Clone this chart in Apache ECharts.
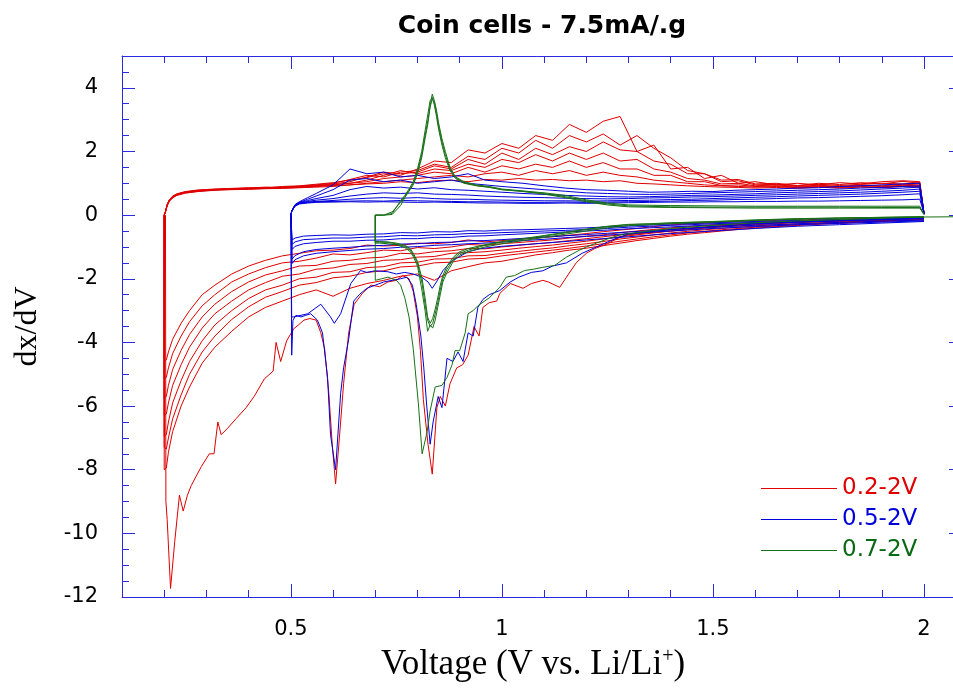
<!DOCTYPE html>
<html><head><meta charset="utf-8">
<script src="https://cdn.jsdelivr.net/npm/echarts@6/dist/echarts.min.js"></script>
<style>html,body{margin:0;padding:0;background:#fff}#c{width:953px;height:688px}</style>
</head><body><div id="c"></div>
<script>
// ---------- DATA (dx/dV vs voltage) ----------
const seriesNames = ['0.2-2V', '0.5-2V', '0.7-2V'];

// 0.2-2V : charge branch voltages and cycles
const redChgV = [0.2,0.203,0.207,0.212,0.22,0.23,0.25,0.28,0.32,0.36, 0.4,0.44,0.48,0.52,0.56,0.6,0.64,0.68,0.72,0.76, 0.8,0.84,0.88,0.92,0.96,1.0,1.04,1.08,1.12,1.16, 1.2,1.24,1.28,1.32,1.36,1.4,1.44,1.48,1.52,1.56, 1.6,1.65,1.7,1.75,1.8,1.85,1.9,1.95,1.99,2.0];
const redChgA = [0,0.12,0.34,0.48,0.6,0.67,0.74,0.79,0.82,0.84, 0.86,0.85,0.9,0.92,0.97,1.02,1.1,1.18,1.3,1.25, 1.45,1.7,1.65,2.05,1.95,2.25,2.1,2.5,2.35,2.85, 2.6,2.95,3.1,2.0,2.2,1.45,1.5,1.15,1.25,1.0, 1.05,0.95,1.0,0.95,1.02,0.98,1.05,1.08,1.05,0.05];
const redChgB = [0,0.11,0.32,0.47,0.58,0.66,0.73,0.78,0.81,0.83, 0.85,0.88,0.87,0.91,0.95,1.0,1.12,1.25,1.2,1.35, 1.4,1.6,1.5,1.85,1.75,2.1,1.95,2.35,2.1,2.5, 2.3,2.55,2.2,2.5,2.1,1.8,1.4,1.3,1.1,1.12, 0.98,1.0,0.93,1.0,0.96,1.02,0.98,1.06,1.0,0.05];
const redChgC = [0,0.12,0.33,0.46,0.57,0.65,0.72,0.77,0.8,0.83, 0.84,0.86,0.88,0.9,0.93,0.98,1.05,1.2,1.35,1.3, 1.35,1.55,1.45,1.75,1.6,1.95,1.75,2.1,1.9,2.15, 2.0,2.3,2.05,2.0,1.7,1.6,1.3,1.3,1.05,1.08, 0.95,0.97,0.92,0.97,0.93,0.97,1.0,0.98,1.02,0.05];
const redChgD = [0,0.1,0.31,0.45,0.56,0.64,0.71,0.76,0.8,0.82, 0.83,0.85,0.86,0.89,0.92,0.96,1.0,1.1,1.25,1.4, 1.3,1.45,1.4,1.6,1.5,1.75,1.65,1.9,1.7,1.95, 1.75,1.95,1.7,1.75,1.45,1.35,1.15,1.1,0.98,1.0, 0.92,0.95,0.9,0.94,0.9,0.95,0.92,0.97,0.95,0.05];
const redChgE = [0,0.11,0.32,0.46,0.57,0.65,0.72,0.77,0.8,0.82, 0.84,0.85,0.87,0.88,0.91,0.95,1.0,1.05,1.15,1.2, 1.25,1.35,1.3,1.5,1.35,1.55,1.45,1.6,1.5,1.7, 1.5,1.65,1.45,1.45,1.25,1.25,1.05,1.05,0.93,0.95, 0.9,0.92,0.88,0.92,0.88,0.93,0.9,0.94,0.92,0.05];
const redChgF = [0,0.1,0.3,0.44,0.55,0.63,0.7,0.75,0.79,0.81, 0.82,0.84,0.85,0.87,0.9,0.93,0.95,1.0,1.05,1.1, 1.15,1.2,1.25,1.2,1.3,1.35,1.25,1.4,1.3,1.4, 1.25,1.35,1.25,1.2,1.1,1.05,1.0,0.95,0.92,0.9, 0.88,0.9,0.86,0.9,0.87,0.9,0.88,0.92,0.9,0.05];
const redChgG = [0,0.1,0.29,0.43,0.54,0.62,0.69,0.74,0.78,0.8, 0.81,0.83,0.84,0.86,0.88,0.9,0.95,0.98,1.0,1.05, 1.02,1.08,1.1,1.05,1.12,1.1,1.15,1.1,1.12,1.08, 1.1,1.05,1.08,1.0,0.98,0.95,0.92,0.9,0.88,0.87, 0.85,0.87,0.84,0.88,0.85,0.88,0.86,0.9,0.88,0.05];

// 0.2-2V : discharge branch voltages and cycles
const redDisV = [2.0,1.96,1.92,1.88,1.84,1.8,1.76,1.72,1.68,1.64, 1.6,1.56,1.52,1.48,1.44,1.4,1.36,1.32,1.28,1.24, 1.2,1.16,1.12,1.08,1.04,1.0,0.96,0.92,0.88,0.84, 0.8,0.76,0.72,0.68,0.64,0.6,0.56,0.52,0.48,0.44, 0.4,0.36,0.32,0.29,0.26,0.24,0.22,0.21,0.205,0.2];
const redDis0 = [-0.08,-0.1,-0.09,-0.12,-0.11,-0.13,-0.12,-0.15,-0.14,-0.17, -0.18,-0.2,-0.22,-0.25,-0.28,-0.31,-0.36,-0.42,-0.47,-0.52, -0.58,-0.63,-0.68,-0.72,-0.76,-0.8,-0.84,-0.78,-0.86,-0.9, -0.88,-0.95,-0.97,-0.94,-1.05,-1.1,-1.12,-1.2,-1.28,-1.42, -1.6,-1.85,-2.2,-2.5,-3.0,-3.4,-3.9,-4.3,-4.55,-4.6];
const redDis1 = [-0.09,-0.11,-0.12,-0.11,-0.14,-0.13,-0.16,-0.17,-0.19,-0.21, -0.23,-0.26,-0.29,-0.32,-0.36,-0.4,-0.45,-0.5,-0.55,-0.62, -0.66,-0.72,-0.78,-0.82,-0.86,-0.9,-0.95,-0.92,-1.0,-1.05, -1.02,-1.12,-1.1,-1.18,-1.25,-1.22,-1.35,-1.45,-1.5,-1.65, -1.85,-2.1,-2.5,-2.85,-3.35,-3.8,-4.35,-4.8,-5.1,-5.15];
const redDis2 = [-0.1,-0.12,-0.13,-0.15,-0.14,-0.17,-0.19,-0.2,-0.23,-0.25, -0.27,-0.3,-0.33,-0.37,-0.41,-0.45,-0.5,-0.56,-0.62,-0.68, -0.74,-0.8,-0.86,-0.9,-0.95,-1.0,-1.06,-1.05,-1.12,-1.15, -1.22,-1.2,-1.32,-1.35,-1.42,-1.45,-1.58,-1.6,-1.75,-1.88, -2.1,-2.4,-2.8,-3.2,-3.75,-4.25,-4.85,-5.35,-5.7,-5.75];
const redDis3 = [-0.11,-0.13,-0.15,-0.16,-0.18,-0.19,-0.21,-0.23,-0.25,-0.28, -0.3,-0.34,-0.37,-0.41,-0.46,-0.5,-0.56,-0.62,-0.68,-0.75, -0.82,-0.88,-0.94,-0.99,-1.04,-1.1,-1.15,-1.18,-1.2,-1.3, -1.32,-1.4,-1.42,-1.52,-1.55,-1.66,-1.7,-1.85,-1.92,-2.12, -2.35,-2.7,-3.1,-3.55,-4.15,-4.7,-5.35,-5.9,-6.25,-6.3];
const redDis4 = [-0.12,-0.14,-0.16,-0.18,-0.2,-0.21,-0.24,-0.26,-0.29,-0.31, -0.34,-0.38,-0.42,-0.46,-0.51,-0.56,-0.62,-0.69,-0.75,-0.83, -0.9,-0.96,-1.03,-1.08,-1.14,-1.2,-1.27,-1.28,-1.37,-1.38, -1.48,-1.5,-1.62,-1.65,-1.78,-1.8,-1.95,-2.0,-2.2,-2.35, -2.62,-3.0,-3.45,-3.95,-4.6,-5.2,-5.9,-6.5,-6.9,-6.95];
const redDis5 = [-0.13,-0.15,-0.17,-0.2,-0.21,-0.24,-0.26,-0.29,-0.32,-0.35, -0.38,-0.42,-0.46,-0.51,-0.56,-0.62,-0.68,-0.75,-0.82,-0.9, -0.97,-1.04,-1.1,-1.16,-1.22,-1.28,-1.36,-1.38,-1.48,-1.5, -1.6,-1.63,-1.75,-1.8,-1.92,-1.97,-2.12,-2.2,-2.4,-2.58, -2.88,-3.28,-3.8,-4.3,-5.0,-5.65,-6.4,-7.0,-7.35,-7.3];
const redDis6 = [-0.14,-0.16,-0.19,-0.21,-0.23,-0.26,-0.28,-0.31,-0.34,-0.37, -0.41,-0.45,-0.5,-0.55,-0.6,-0.66,-0.73,-0.8,-0.88,-0.96, -1.04,-1.1,-1.18,-1.25,-1.35,-1.45,-1.5,-1.62,-1.75,-2.05, -1.85,-1.92,-2.05,-2.15,-2.3,-2.55,-2.35,-2.5,-2.7,-2.9, -3.2,-3.65,-4.15,-4.65,-5.4,-6.0,-6.8,-7.45,-7.95,-8.0];
// first discharge of the 0.2-2V cell: [V, dx/dV]
const redFirst = [[2.0,-0.08],[1.9,-0.12],[1.8,-0.15],[1.7,-0.2],[1.6,-0.27],[1.5,-0.36],[1.45,-0.42],[1.4,-0.5],[1.35,-0.55],[1.3,-0.62],[1.28,-0.69],[1.25,-0.9],[1.22,-1.05],[1.2,-1.2],[1.176,-1.5],[1.153,-1.95],[1.137,-2.27],[1.11,-2.1],[1.097,-2.05],[1.07,-2.15],[1.05,-2.3],[1.02,-2.15],[0.995,-2.46],[0.988,-2.7],[0.97,-2.75],[0.955,-2.9],[0.946,-3.8],[0.934,-3.5],[0.92,-4.4],[0.907,-4.7],[0.893,-4.8],[0.877,-5.3],[0.866,-6.0],[0.854,-5.7],[0.846,-6.05],[0.835,-8.14],[0.825,-7.2],[0.814,-5.8],[0.807,-4.26],[0.8,-3.2],[0.79,-2.4],[0.78,-2.0],[0.765,-1.9],[0.75,-2.05],[0.73,-2.1],[0.71,-2.25],[0.69,-2.2],[0.67,-2.45],[0.65,-2.8],[0.637,-3.7],[0.625,-5.3],[0.615,-7.0],[0.606,-8.45],[0.598,-7.2],[0.59,-5.6],[0.58,-4.2],[0.571,-3.7],[0.56,-3.3],[0.545,-3.25],[0.531,-3.3],[0.518,-3.45],[0.507,-3.57],[0.49,-3.95],[0.476,-4.6],[0.465,-4.0],[0.458,-4.9],[0.437,-5.15],[0.413,-5.7],[0.394,-6.05],[0.37,-6.4],[0.35,-6.7],[0.335,-6.9],[0.327,-6.5],[0.318,-7.5],[0.307,-7.5],[0.288,-7.9],[0.264,-8.5],[0.255,-8.8],[0.245,-9.3],[0.236,-8.8],[0.225,-10.25],[0.215,-11.73],[0.207,-9.56],[0.204,-9.0],[0.203,0]];

// 0.5-2V : charge
const blueChgV = [0.5,0.502,0.506,0.51,0.52,0.54,0.56,0.6,0.64,0.68, 0.72,0.76,0.8,0.84,0.88,0.92,0.96,1.0,1.05,1.1, 1.15,1.2,1.25,1.3,1.35,1.4,1.45,1.5,1.55,1.6, 1.65,1.7,1.75,1.8,1.85,1.9,1.95,1.99,2.0];
const blueChg1 = [0,0.12,0.24,0.33,0.42,0.55,0.68,0.95,1.45,1.3, 1.35,1.2,1.25,1.15,1.2,1.3,1.1,1.05,1.0,0.92, 0.85,0.8,0.78,0.75,0.72,0.73,0.75,0.74,0.78,0.8, 0.82,0.85,0.86,0.9,0.92,0.95,0.98,1.0,0.05];
const blueChg2 = [0,0.12,0.23,0.32,0.4,0.5,0.6,0.8,1.1,1.15, 1.05,1.1,1.0,1.05,1.1,1.0,0.95,0.9,0.85,0.8, 0.75,0.7,0.68,0.66,0.65,0.66,0.68,0.7,0.72,0.74, 0.76,0.78,0.8,0.82,0.85,0.87,0.9,0.92,0.05];
const blueChg3 = [0,0.12,0.22,0.31,0.39,0.46,0.52,0.62,0.8,0.9, 0.85,0.88,0.82,0.86,0.8,0.78,0.75,0.72,0.68,0.65, 0.62,0.6,0.58,0.57,0.58,0.6,0.62,0.63,0.65,0.67, 0.7,0.72,0.74,0.76,0.79,0.82,0.85,0.88,0.05];
const blueChg4 = [0,0.12,0.22,0.3,0.38,0.43,0.47,0.52,0.6,0.66, 0.7,0.68,0.7,0.66,0.65,0.63,0.6,0.58,0.56,0.55, 0.53,0.52,0.51,0.52,0.54,0.55,0.57,0.58,0.6,0.62, 0.64,0.66,0.68,0.7,0.72,0.75,0.78,0.82,0.05];
const blueChg5 = [0,0.11,0.21,0.3,0.37,0.41,0.43,0.46,0.5,0.53, 0.55,0.53,0.55,0.52,0.5,0.5,0.48,0.47,0.46,0.45, 0.45,0.44,0.45,0.46,0.47,0.49,0.5,0.52,0.54,0.56, 0.58,0.6,0.62,0.64,0.66,0.69,0.72,0.75,0.05];
const blueChg6 = [0,0.11,0.21,0.29,0.36,0.4,0.42,0.43,0.44,0.45, 0.44,0.46,0.45,0.44,0.43,0.42,0.42,0.41,0.4,0.4, 0.41,0.4,0.41,0.42,0.43,0.44,0.46,0.47,0.49,0.5, 0.52,0.54,0.55,0.57,0.59,0.61,0.64,0.67,0.05];
const blueChg7 = [0,0.11,0.2,0.28,0.35,0.38,0.4,0.41,0.42,0.41, 0.42,0.41,0.4,0.41,0.4,0.39,0.38,0.38,0.37,0.37, 0.38,0.37,0.38,0.39,0.4,0.41,0.41,0.42,0.42,0.43, 0.43,0.44,0.44,0.45,0.46,0.47,0.48,0.5,0.05];

// 0.5-2V : discharge
const blueDisV = [2.0,1.95,1.9,1.85,1.8,1.75,1.7,1.65,1.6,1.55, 1.5,1.45,1.4,1.35,1.3,1.25,1.2,1.15,1.1,1.05, 1.0,0.96,0.92,0.88,0.84,0.8,0.76,0.72,0.68,0.64, 0.6,0.56,0.53,0.51,0.503,0.5];
const blueDis0 = [-0.08,-0.1,-0.11,-0.12,-0.14,-0.15,-0.17,-0.18,-0.2,-0.22, -0.24,-0.26,-0.28,-0.31,-0.34,-0.37,-0.4,-0.42,-0.44,-0.46, -0.47,-0.5,-0.49,-0.53,-0.52,-0.56,-0.55,-0.59,-0.6,-0.63, -0.62,-0.64,-0.66,-0.72,-0.78,-0.8];
const blueDis1 = [-0.1,-0.11,-0.13,-0.14,-0.16,-0.17,-0.19,-0.21,-0.23,-0.25, -0.27,-0.3,-0.32,-0.35,-0.38,-0.42,-0.45,-0.48,-0.5,-0.53, -0.55,-0.57,-0.58,-0.61,-0.62,-0.65,-0.64,-0.68,-0.69,-0.72, -0.72,-0.75,-0.77,-0.84,-0.92,-0.95];
const blueDis2 = [-0.12,-0.13,-0.15,-0.16,-0.18,-0.2,-0.22,-0.24,-0.26,-0.28, -0.31,-0.34,-0.37,-0.4,-0.43,-0.47,-0.5,-0.53,-0.56,-0.59, -0.62,-0.65,-0.66,-0.7,-0.7,-0.74,-0.74,-0.78,-0.79,-0.82, -0.82,-0.86,-0.9,-0.98,-1.08,-1.1];
const blueDis3 = [-0.16,-0.17,-0.19,-0.21,-0.23,-0.25,-0.27,-0.3,-0.32,-0.35, -0.38,-0.41,-0.45,-0.49,-0.53,-0.57,-0.61,-0.65,-0.69,-0.73, -0.77,-0.8,-0.81,-0.85,-0.86,-0.9,-0.91,-0.95,-0.97,-1.01, -1.04,-1.08,-1.15,-1.27,-1.38,-1.4];
const blueDis4 = [-0.18,-0.2,-0.22,-0.24,-0.26,-0.28,-0.3,-0.33,-0.36,-0.39, -0.42,-0.46,-0.5,-0.54,-0.58,-0.63,-0.67,-0.71,-0.76,-0.8, -0.85,-0.88,-0.9,-0.93,-0.95,-0.99,-1.01,-1.05,-1.07,-1.11, -1.15,-1.2,-1.28,-1.4,-1.52,-1.55];
const blueFirst = [[2.0,-0.1],[1.9,-0.14],[1.8,-0.18],[1.7,-0.22],[1.6,-0.28],[1.5,-0.36],[1.4,-0.46],[1.33,-0.55],[1.3,-0.6],[1.278,-0.69],[1.25,-0.85],[1.224,-1.0],[1.19,-1.2],[1.153,-1.5],[1.12,-1.6],[1.097,-1.75],[1.07,-1.8],[1.04,-1.95],[1.02,-2.1],[0.995,-2.37],[0.97,-2.5],[0.955,-2.65],[0.943,-2.9],[0.932,-3.8],[0.92,-3.7],[0.908,-4.6],[0.896,-4.3],[0.884,-4.6],[0.87,-4.5],[0.858,-6.05],[0.849,-5.7],[0.837,-6.5],[0.83,-7.2],[0.822,-6.0],[0.815,-4.8],[0.808,-3.8],[0.797,-2.8],[0.788,-2.2],[0.775,-1.95],[0.76,-2.0],[0.74,-2.05],[0.72,-2.1],[0.7,-2.2],[0.68,-2.3],[0.662,-2.5],[0.649,-2.7],[0.637,-3.9],[0.625,-4.8],[0.618,-5.6],[0.606,-8.0],[0.594,-6.9],[0.587,-5.1],[0.575,-3.7],[0.563,-3.3],[0.547,-3.1],[0.535,-3.15],[0.524,-3.2],[0.512,-3.15],[0.505,-3.3],[0.502,-4.4]];
const blueSecond = [[2.0,-0.2],[1.9,-0.25],[1.8,-0.3],[1.7,-0.35],[1.6,-0.42],[1.5,-0.5],[1.4,-0.58],[1.3,-0.68],[1.2,-0.78],[1.1,-0.88],[1.0,-0.98],[0.95,-1.05],[0.92,-1.15],[0.9,-1.3],[0.88,-1.45],[0.86,-1.75],[0.845,-2.1],[0.835,-2.3],[0.825,-2.1],[0.81,-1.95],[0.79,-1.85],[0.77,-1.8],[0.75,-1.85],[0.73,-1.78],[0.7,-1.75],[0.68,-1.8],[0.665,-1.74],[0.642,-2.15],[0.618,-3.1],[0.603,-3.4],[0.594,-3.2],[0.571,-2.8],[0.54,-3.1],[0.507,-3.2],[0.502,-3.2]];

// 0.7-2V : charge
const greenChgV = [0.7,0.72,0.74,0.76,0.77,0.78,0.79,0.8,0.81,0.818, 0.825,0.83,0.835,0.84,0.845,0.85,0.858,0.866,0.877,0.89, 0.91,0.94,0.97,1.0,1.05,1.1,1.15,1.2,1.25,1.3, 1.4,1.5,1.6,1.7,1.8,1.9,1.99,2.0];
const greenChg1 = [0,0,0.02,0.3,0.55,0.75,0.95,1.3,1.8,2.4, 2.9,3.45,3.8,3.6,3.3,2.9,2.4,2.0,1.5,1.2, 1.05,0.95,0.9,0.82,0.76,0.7,0.62,0.48,0.38,0.32, 0.3,0.29,0.28,0.28,0.28,0.28,0.28,0.02];
const greenChg2 = [0,0,0.05,0.45,0.62,0.82,1.05,1.45,2.0,2.65, 3.2,3.6,3.7,3.45,3.1,2.7,2.2,1.8,1.4,1.15, 1.0,0.92,0.87,0.8,0.74,0.66,0.55,0.42,0.32,0.26, 0.24,0.23,0.22,0.22,0.22,0.22,0.22,0.02];
const greenChg3 = [0,0,0.1,0.4,0.58,0.78,1.0,1.35,1.9,2.5, 3.0,3.4,3.65,3.55,3.2,2.8,2.3,1.9,1.45,1.18, 1.02,0.93,0.88,0.8,0.75,0.68,0.58,0.45,0.35,0.29, 0.26,0.25,0.25,0.25,0.25,0.24,0.24,0.02];

// 0.7-2V : discharge
const greenDisV = [2.0,1.9,1.8,1.7,1.6,1.5,1.4,1.35,1.3,1.25, 1.2,1.15,1.1,1.05,1.0,0.96,0.92,0.9,0.885,0.87, 0.86,0.854,0.848,0.842,0.836,0.83,0.824,0.818,0.811,0.805, 0.8,0.79,0.783,0.77,0.75,0.73,0.71,0.7];
const greenDis1 = [-0.05,-0.07,-0.09,-0.12,-0.16,-0.21,-0.25,-0.28,-0.3,-0.36, -0.45,-0.56,-0.66,-0.76,-0.85,-0.95,-1.1,-1.2,-1.38,-1.7, -2.0,-2.35,-2.75,-3.1,-3.4,-3.5,-3.3,-2.8,-2.15,-1.8, -1.5,-1.25,-1.1,-0.98,-0.9,-0.86,-0.85,-0.85];
const greenDis2 = [-0.06,-0.08,-0.1,-0.13,-0.17,-0.22,-0.27,-0.3,-0.33,-0.4, -0.5,-0.6,-0.7,-0.8,-0.9,-1.0,-1.15,-1.25,-1.45,-1.8, -2.1,-2.5,-2.9,-3.3,-3.55,-3.45,-3.65,-3.0,-2.4,-1.95, -1.6,-1.3,-1.15,-1.02,-0.93,-0.9,-0.88,-0.88];
const greenDis3 = [-0.05,-0.07,-0.09,-0.11,-0.15,-0.2,-0.24,-0.27,-0.29,-0.35, -0.44,-0.54,-0.64,-0.74,-0.83,-0.93,-1.05,-1.15,-1.32,-1.6, -1.9,-2.2,-2.6,-2.95,-3.25,-3.4,-3.2,-2.6,-2.0,-1.7, -1.45,-1.2,-1.05,-0.95,-0.88,-0.84,-0.83,-0.83];
const greenFirst = [[2.09,-0.05],[2.0,-0.06],[1.9,-0.1],[1.8,-0.14],[1.7,-0.18],[1.6,-0.24],[1.5,-0.32],[1.4,-0.42],[1.35,-0.5],[1.3,-0.58],[1.278,-0.63],[1.25,-0.75],[1.224,-0.88],[1.2,-1.0],[1.184,-1.1],[1.153,-1.32],[1.125,-1.58],[1.097,-1.64],[1.075,-1.7],[1.054,-1.74],[1.03,-1.9],[1.01,-1.95],[0.995,-2.27],[0.97,-2.6],[0.943,-2.85],[0.932,-3.0],[0.92,-3.1],[0.913,-3.7],[0.9,-4.26],[0.889,-4.26],[0.882,-4.7],[0.87,-5.1],[0.858,-5.35],[0.842,-5.4],[0.83,-6.15],[0.823,-6.8],[0.811,-7.5],[0.802,-5.9],[0.79,-4.2],[0.78,-3.2],[0.77,-2.6],[0.76,-2.2],[0.75,-2.05],[0.73,-1.95],[0.715,-2.0],[0.7,-2.05],[0.7,0]];

// ---------- CHART ----------
const RED = '#e00000', BLUE = '#0000dc', GREEN = '#187018', AX = '#2a2ae0';
function zip(v, y) { return v.map((x, i) => [x, y[i]]); }
function cyc(disV, dis, chgV, chg) {
  let d = Array.isArray(dis[0]) ? dis.slice() : zip(disV, dis);
  if (chg) d = d.concat(zip(chgV, chg));
  return d;
}
function line(name, color, data) {
  return { type: 'line', name, color, data, xAxisIndex: 0, yAxisIndex: 0, symbol: 'none', showSymbol: false,
           lineStyle: { color, width: 1 }, silent: true, animation: false };
}
const series = [];
[[redDis0, redChgG], [redDis1, redChgF], [redDis2, redChgE], [redDis3, redChgD], [redDis4, redChgC], [redDis5, redChgB], [redDis6, redChgA]]
  .forEach(p => series.push(line(seriesNames[0], RED, cyc(redDisV, p[0], redChgV, p[1]))));
series.push(line(seriesNames[0], RED, cyc(null, redFirst, null, null)));
[[blueFirst, blueChg1], [blueSecond, blueChg2], [blueDis0, blueChg7], [blueDis1, blueChg6], [blueDis2, blueChg5], [blueDis3, blueChg4], [blueDis4, blueChg3]]
  .forEach(p => series.push(line(seriesNames[1], BLUE, cyc(blueDisV, p[0], blueChgV, p[1]))));
[[greenDis1, greenChg1], [greenDis2, greenChg2], [greenDis3, greenChg3]]
  .forEach(p => series.push(line(seriesNames[2], GREEN, cyc(greenDisV, p[0], greenChgV, p[1]))));
series.push(line(seriesNames[2], GREEN, cyc(null, greenFirst, null, null)));

const G_LEFT = 122, G_W = 840, X_MIN = 0.1, X_MAX = 2.09;
const PX = G_W / (X_MAX - X_MIN);
const G1_LEFT = G_LEFT + (0.5 - X_MIN) * PX;
const tickFont = { fontFamily: 'DejaVu Sans', fontSize: 21, color: '#000' };
const shortX = (pos) => ({ gridIndex: 0, type: 'value', min: X_MIN, max: X_MAX, interval: 0.1, position: pos,
  axisLine: { show: true, onZero: false, lineStyle: { color: AX, width: 1 } },
  axisTick: { show: true, inside: true, length: 7, lineStyle: { color: AX } },
  axisLabel: { show: false }, splitLine: { show: false } });
const longX = (pos, lbl) => ({ gridIndex: 1, type: 'value', min: 0.5, max: X_MAX, interval: 0.5, position: pos,
  axisLine: { show: false, onZero: false },
  axisTick: { show: true, inside: true, length: 13, lineStyle: { color: AX } },
  axisLabel: lbl ? Object.assign({ show: true, margin: 22,
    formatter: v => (Math.abs(v * 2 - Math.round(v * 2)) < 1e-9 && v <= 2 ? String(v) : '') }, tickFont) : { show: false },
  splitLine: { show: false } });
const yAx = (pos, interval, len, line, lbl) => ({ gridIndex: 0, type: 'value', min: -12, max: 5, interval, position: pos,
  axisLine: { show: line, onZero: false, lineStyle: { color: AX, width: 1 } },
  axisTick: { show: true, inside: true, length: len, lineStyle: { color: AX } },
  axisLabel: lbl ? Object.assign({ show: true, margin: 24,
    formatter: v => (Number.isInteger(v) && v % 2 === 0 && v < 5 ? String(v) : '') }, tickFont) : { show: false },
  splitLine: { show: false } });

const xMain = shortX('bottom');
Object.assign(xMain, {
  name: 'Voltage (V vs. Li/Li{sup|+})', nameLocation: 'middle', nameGap: 50,
  nameTextStyle: { fontFamily: 'Liberation Serif', fontSize: 35, color: '#000', padding: [0, 18, 0, 0],
    rich: { sup: { fontFamily: 'Liberation Serif', fontSize: 20, color: '#000', verticalAlign: 'top' } } }
});
const yMain = yAx('left', 2, 13, true, true);
Object.assign(yMain, {
  name: 'dx/dV', nameLocation: 'middle', nameGap: 78, nameRotate: 90,
  nameTextStyle: { fontFamily: 'Liberation Serif', fontSize: 32, color: '#000' }
});

const option = {
  backgroundColor: '#ffffff',
  animation: false,
  title: { text: 'Coin cells - 7.5mA/.g', left: 537, top: 9, textAlign: 'center',
    textStyle: { fontFamily: 'DejaVu Sans', fontWeight: 'bold', fontSize: 25, color: '#000' } },
  legend: { orient: 'vertical', left: 756, top: 472, itemWidth: 76, itemHeight: 1, itemGap: 8, icon: 'rect',
    selectedMode: false,
    textStyle: { fontFamily: 'DejaVu Sans', fontSize: 23, lineHeight: 23 },
    data: [ { name: seriesNames[0], textStyle: { color: RED } },
            { name: seriesNames[1], textStyle: { color: BLUE } },
            { name: seriesNames[2], textStyle: { color: '#0a6a14' } } ] },
  grid: [ { left: G_LEFT, top: 56, width: G_W, bottom: 91, outerBoundsMode: 'none', containLabel: false },
          { left: G1_LEFT, top: 56, width: G_W - (G1_LEFT - G_LEFT), bottom: 91, outerBoundsMode: 'none', containLabel: false } ],
  xAxis: [ xMain, longX('bottom', true), shortX('top'), longX('top', false) ],
  yAxis: [ yMain, yAx('left', 0.5, 7, false, false), yAx('right', 2, 13, true, false), yAx('right', 0.5, 7, false, false),
           { gridIndex: 1, type: 'value', min: -12, max: 5, show: false } ],
  series
};
const chart = echarts.init(document.getElementById('c'), null, { renderer: 'canvas' });
chart.setOption(option);
</script></body></html>
